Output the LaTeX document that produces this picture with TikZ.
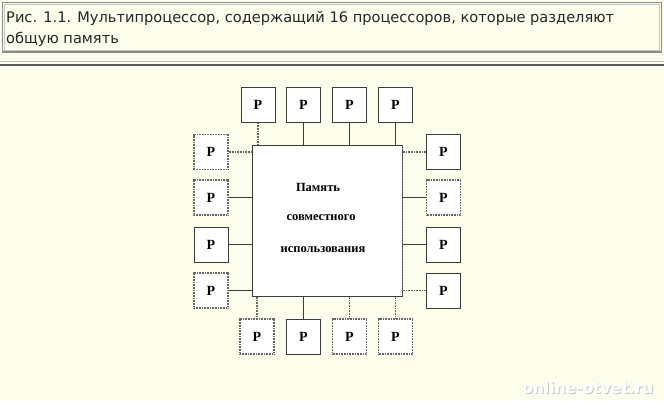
\documentclass[tikz,border=0pt]{standalone}
\usepackage{fontspec}
\setmainfont{Liberation Serif}
\newfontfamily\capfont{DejaVu Sans}
\newfontfamily\wmfont{DejaVu Sans}
\definecolor{bgcream}{RGB}{253,253,236}
\definecolor{linegray}{RGB}{60,60,60}
\begin{document}
\begin{tikzpicture}[x=1pt,y=-1pt,
  pbox/.style={draw=linegray,line width=1pt,fill=white,minimum width=34pt,minimum height=35pt,inner sep=0pt,font=\fontsize{14}{14}\selectfont\bfseries},
  dbox/.style={pbox,dash pattern=on 0.9pt off 0.7pt,draw=black!60,line width=1.2pt},
  conn/.style={draw=linegray,line width=1pt},
  dconn/.style={draw=black!60,line width=1.3pt,dash pattern=on 0.9pt off 0.7pt},
  memtext/.style={font=\fontsize{12.5}{12.5}\selectfont\bfseries,inner sep=0pt}]
\fill[bgcream] (0,0) rectangle (664,400);
\useasboundingbox (0,0) rectangle (664,400);
% caption
\draw[gray!90,line width=1.3pt] (2.5,2.5) rectangle (661.5,52);
\draw[gray!45,line width=0.6pt] (4.5,4.5) rectangle (659.5,50);
\node[anchor=west,inner sep=0pt,font=\capfont\fontsize{14.6}{14.6}\selectfont,text=black!85] (cap1) at (6,18) {Рис. 1.1. Мультипроцессор, содержащий 16 процессоров, которые разделяют};
\node[anchor=west,inner sep=0pt,font=\capfont\fontsize{14.6}{14.6}\selectfont,text=black!85] (cap2) at (6,39) {общую память};
\draw[gray!50,line width=0.8pt] (0,61) -- (664,61);
\draw[black!65,line width=2pt] (0,64.5) -- (664,64.5);
% memory
\node[draw=linegray,line width=1pt,fill=white,minimum width=150pt,minimum height=151pt,inner sep=0pt] (mem) at (327,220.5) {};
\draw[dconn] (mem.north east) -- (mem.south east);
\node[memtext] (m1) at (318,187.5) {Память};
\node[memtext] (m2) at (321,217.5) {совместного};
\node[memtext] (m3) at (323,249.5) {использования};
% top processors
\node[pbox] (t1) at (258,105) {P};
\node[pbox] (t2) at (303.5,105) {P};
\node[pbox] (t3) at (349.5,105) {P};
\node[pbox] (t4) at (395.5,105) {P};
% bottom processors
\node[dbox] (b1) at (257,336.5) {P};
\node[pbox] (b2) at (303.5,336.5) {P};
\node[dbox] (b3) at (349.5,336.5) {P};
\node[dbox] (b4) at (395.5,336.5) {P};
% left processors
\node[dbox] (l1) at (211,152) {P};
\node[dbox] (l2) at (211,197.5) {P};
\node[pbox] (l3) at (211,244.5) {P};
\node[dbox] (l4) at (211,290.5) {P};
% right processors
\node[pbox] (r1) at (443.5,152) {P};
\node[dbox] (r2) at (443.5,197.5) {P};
\node[pbox] (r3) at (443.5,244.5) {P};
\node[pbox] (r4) at (443.5,290.5) {P};
% connectors top
\draw[dconn] (t1.south) -- (t1.south |- mem.north);
\draw[conn] (t2.south) -- (t2.south |- mem.north);
\draw[conn] (t3.south) -- (t3.south |- mem.north);
\draw[conn] (t4.south) -- (t4.south |- mem.north);
% connectors bottom
\draw[dconn] (b1.north) -- (b1.north |- mem.south);
\draw[conn] (b2.north) -- (b2.north |- mem.south);
\draw[dconn] (b3.north) -- (b3.north |- mem.south);
\draw[dconn] (b4.north) -- (b4.north |- mem.south);
% connectors left
\draw[dconn] (l1.east) -- (l1.east -| mem.west);
\draw[conn] (l2.east) -- (l2.east -| mem.west);
\draw[conn] (l3.east) -- (l3.east -| mem.west);
\draw[conn] (l4.east) -- (l4.east -| mem.west);
% connectors right
\draw[dconn] (r1.west) -- (r1.west -| mem.east);
\draw[conn] (r2.west) -- (r2.west -| mem.east);
\draw[conn] (r3.west) -- (r3.west -| mem.east);
\draw[dconn] (r4.west) -- (r4.west -| mem.east);
% watermark
\node[font=\wmfont\bfseries\fontsize{15.5}{15.5}\selectfont,text=gray!45,inner sep=0pt] (wms) at (589,388.5) {online-otvet.ru};
\node[font=\wmfont\bfseries\fontsize{15.5}{15.5}\selectfont,text=white,inner sep=0pt] (wm) at (588,387.5) {online-otvet.ru};
\end{tikzpicture}
\end{document}
